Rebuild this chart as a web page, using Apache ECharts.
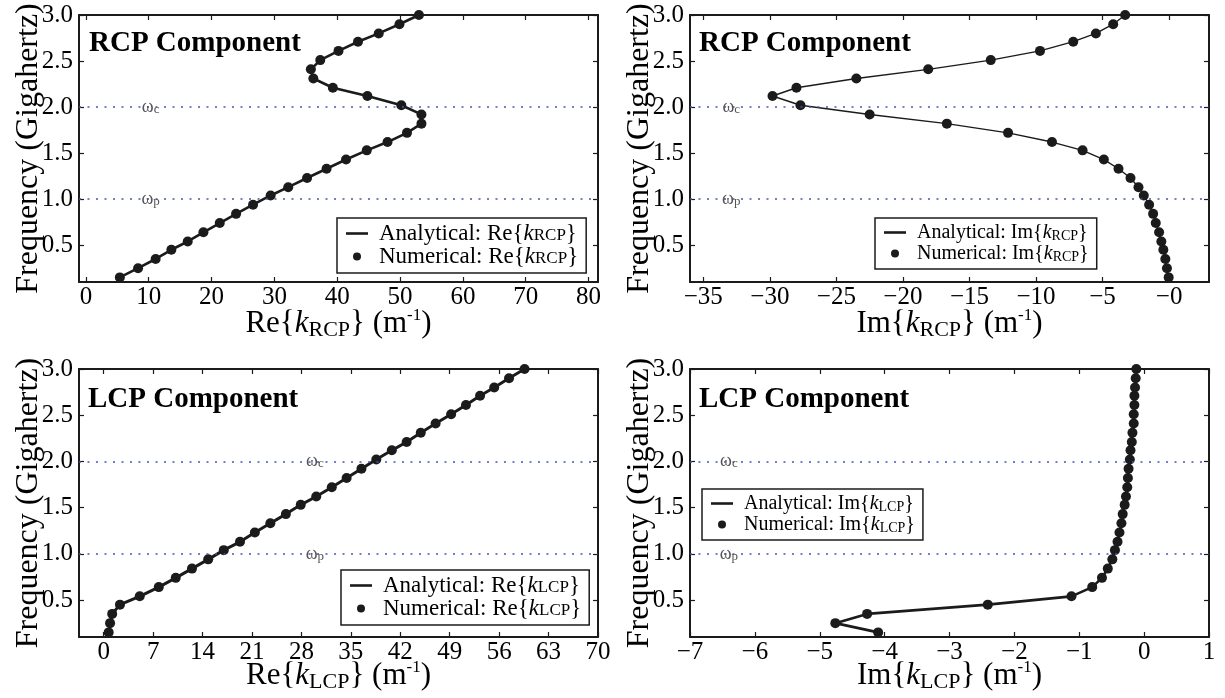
<!DOCTYPE html>
<html>
<head>
<meta charset="utf-8">
<script src="https://cdn.jsdelivr.net/npm/echarts@6.0.0/dist/echarts.min.js"></script>
<style>
  html, body { margin: 0; padding: 0; background: #fff; }
  #chart { width: 1225px; height: 698px; }
</style>
</head>
<body>
<div id="chart"></div>
<script>
// frequency samples (GHz), shared by all four panels
const freq = [0.15, 0.25, 0.35, 0.45, 0.54, 0.64, 0.74, 0.84, 0.94, 1.04,
              1.13, 1.23, 1.33, 1.43, 1.53, 1.62, 1.72, 1.82, 1.92, 2.02,
              2.12, 2.21, 2.31, 2.41, 2.51, 2.61, 2.71, 2.80, 2.90, 3.00]

// wavenumber components (m^-1), low -> high frequency
const reRcp = [5.4, 8.3, 11.1, 13.6, 16.2, 18.7, 21.3, 23.9, 26.6, 29.4,
               32.2, 35.2, 38.3, 41.4, 44.7, 48.0, 51.1, 53.4, 53.4, 50.2,
               44.8, 39.3, 36.2, 35.8, 37.3, 40.2, 43.3, 46.6, 49.9, 53.0]
const imRcp = [-0.03, -0.16, -0.28, -0.43, -0.58, -0.75, -1.0, -1.2, -1.5, -1.9,
               -2.3, -2.9, -3.8, -4.9, -6.5, -8.8, -12.1, -16.7, -22.5, -27.7,
               -29.8, -28.0, -23.5, -18.1, -13.4, -9.7, -7.2, -5.5, -4.2, -3.3]
const reLcp = [0.7, 0.9, 1.2, 2.3, 5.1, 7.8, 10.2, 12.5, 14.8, 17.0,
               19.3, 21.4, 23.6, 25.8, 27.9, 30.1, 32.3, 34.4, 36.5, 38.6,
               40.8, 42.9, 44.9, 47.0, 49.2, 51.3, 53.3, 55.3, 57.4, 59.6]
const imLcp = [-4.10, -4.76, -4.27, -2.41, -1.12, -0.80, -0.65, -0.56, -0.49, -0.45,
               -0.41, -0.38, -0.35, -0.33, -0.30, -0.28, -0.26, -0.25, -0.24, -0.22,
               -0.21, -0.19, -0.18, -0.16, -0.16, -0.15, -0.15, -0.14, -0.13, -0.12]

// axis ticks and labels
const yTicks = [0.5, 1.0, 1.5, 2.0, 2.5, 3.0]
const xTicks = [
  [0, 10, 20, 30, 40, 50, 60, 70, 80],
  [-35, -30, -25, -20, -15, -10, -5, 0],
  [0, 7, 14, 21, 28, 35, 42, 49, 56, 63, 70],
  [-7, -6, -5, -4, -3, -2, -1, 0, 1]
]
const xLabels = [
  ['0', '10', '20', '30', '40', '50', '60', '70', '80'],
  ['\u221235', '\u221230', '\u221225', '\u221220', '\u221215', '\u221210', '\u22125', '\u22120'],
  ['0', '7', '14', '21', '28', '35', '42', '49', '56', '63', '70'],
  ['\u22127', '\u22126', '\u22125', '\u22124', '\u22123', '\u22122', '\u22121', '0', '1']
]
const xRange = [[-1.1, 81.5], [-36, 3], [-3.5, 70], [-7, 1]]
const yRange = [0.1, 3.0]

// omega_c / omega_p reference lines and where their labels sit
const refLines = [2.0, 1.0]
const refSubs = ['c', 'p']
const omegaX = [10.3, -32.9, 29.9, -6.4]

const values = [reRcp, imRcp, reLcp, imLcp]
const parts = ['Re', 'Im', 'Re', 'Im']
const pols = ['RCP', 'RCP', 'LCP', 'LCP']
const titles = ['RCP Component', 'RCP Component', 'LCP Component', 'LCP Component']

const FONT = '"Liberation Serif", "Times New Roman", serif'
const INK = '#1b1b1b'

const grids = [
  { left: 79, top: 15, width: 519, height: 267 },
  { left: 690, top: 15, width: 519, height: 267 },
  { left: 79, top: 369, width: 519, height: 268 },
  { left: 690, top: 369, width: 519, height: 268 }
]
const legendPos = [[337, 218], [875, 218], [341, 570], [702, 489]]
const legendFont = [23, 20, 23, 20]
const lineWidths = [2.6, 1.4, 3, 2.6]
const titlePos = [[89, 28], [699, 28], [88, 384], [699, 384]]
const nameGaps = [25, 25, 22, 22]

const kLabel = (i) => `${parts[i]}{{k|k}{s|${pols[i]}}}`

const xAxes = [], yAxes = [], series = [], legends = [], titleList = []

for (let i = 0; i < 4; i++) {
  const frame = { show: true, onZero: false, lineStyle: { color: INK, width: 2 } }
  const xTick = { show: true, inside: true, length: 5, customValues: xTicks[i], lineStyle: { color: INK, width: 1.2 } }
  const yTick = { show: true, inside: true, length: 5, customValues: yTicks, lineStyle: { color: INK, width: 1.2 } }

  xAxes.push({
    type: 'value', gridIndex: i, position: 'bottom',
    min: xRange[i][0], max: xRange[i][1],
    splitLine: { show: false }, axisLine: frame, axisTick: xTick,
    axisLabel: {
      customValues: xTicks[i], margin: 3,
      fontFamily: FONT, fontSize: 25, color: '#000',
      formatter: v => xLabels[i][xTicks[i].indexOf(v)]
    },
    name: `${kLabel(i)} (m{p|-1})`,
    nameLocation: 'middle', nameGap: nameGaps[i], nameMoveOverlap: false,
    nameTextStyle: {
      fontFamily: FONT, fontSize: 31, color: '#000', lineHeight: 34,
      rich: {
        k: { fontFamily: FONT, fontSize: 31, fontStyle: 'italic', color: '#000', lineHeight: 34 },
        s: { fontFamily: FONT, fontSize: 22, color: '#000', lineHeight: 18, verticalAlign: 'bottom' },
        p: { fontFamily: FONT, fontSize: 17, color: '#000', lineHeight: 24, verticalAlign: 'top' }
      }
    }
  })
  xAxes.push({
    type: 'value', gridIndex: i, position: 'top',
    min: xRange[i][0], max: xRange[i][1],
    splitLine: { show: false }, axisLine: frame, axisTick: xTick,
    axisLabel: { show: false }
  })

  yAxes.push({
    type: 'value', gridIndex: i, position: 'left',
    min: yRange[0], max: yRange[1],
    splitLine: { show: false }, axisLine: frame, axisTick: yTick,
    axisLabel: {
      customValues: yTicks, margin: 6,
      fontFamily: FONT, fontSize: 25, color: '#000',
      formatter: v => v.toFixed(1)
    },
    name: 'Frequency (Gigahertz)',
    nameLocation: 'middle', nameGap: 32, nameMoveOverlap: false,
    nameTextStyle: { fontFamily: FONT, fontSize: 32, color: '#000', lineHeight: 36 }
  })
  yAxes.push({
    type: 'value', gridIndex: i, position: 'right',
    min: yRange[0], max: yRange[1],
    splitLine: { show: false }, axisLine: frame, axisTick: yTick,
    axisLabel: { show: false }
  })

  const pts = freq.map((f, j) => [values[i][j], f])
  const anaName = `Analytical: ${kLabel(i)}`
  const numName = `Numerical: ${kLabel(i)}`

  series.push({
    name: anaName, type: 'line', xAxisIndex: 2 * i, yAxisIndex: 2 * i,
    data: pts, symbol: 'none', showSymbol: false,
    lineStyle: { color: INK, width: lineWidths[i] }, itemStyle: { color: INK },
    markLine: {
      silent: true, symbol: ['none', 'none'], label: { show: false },
      lineStyle: { color: '#4656b8', type: [2, 6.5], width: 1.5 },
      data: refLines.map(v => ({ yAxis: v }))
    },
    markPoint: {
      silent: true, symbol: 'circle', symbolSize: 1,
      itemStyle: { color: 'rgba(0,0,0,0)' },
      label: {
        show: true, position: 'inside', color: '#555',
        formatter: p => `{w|\u03c9}{s|${p.data.sub}}`,
        rich: {
          w: { fontFamily: FONT, fontSize: 18, color: '#555', lineHeight: 18 },
          s: { fontFamily: FONT, fontSize: 13, color: '#555', lineHeight: 10, verticalAlign: 'bottom' }
        }
      },
      data: refLines.map((v, j) => ({ coord: [omegaX[i], v], sub: refSubs[j] }))
    }
  })
  series.push({
    name: numName, type: 'scatter', xAxisIndex: 2 * i, yAxisIndex: 2 * i,
    data: pts, symbol: 'circle', symbolSize: 10,
    itemStyle: { color: INK, opacity: 1 }
  })

  const fs = legendFont[i]
  legends.push({
    data: [
      { name: anaName, icon: 'path://M0,0H22V2.6H0Z' },
      { name: numName, icon: 'circle' }
    ],
    selectedMode: false, orient: 'vertical',
    left: legendPos[i][0], top: legendPos[i][1],
    padding: [4, 8, 5, 9], itemGap: 0, itemWidth: 22, itemHeight: 8,
    borderColor: INK, borderWidth: 1.5, backgroundColor: '#fff',
    itemStyle: { color: INK, borderWidth: 0 },
    lineStyle: { width: 0 },
    textStyle: {
      fontFamily: FONT, fontSize: fs, color: '#000', lineHeight: 21, padding: [0, 0, 0, 6],
      rich: {
        k: { fontFamily: FONT, fontSize: fs, fontStyle: 'italic', color: '#000', lineHeight: 21 },
        s: { fontFamily: FONT, fontSize: Math.round(fs * 0.72), color: '#000', lineHeight: 12, verticalAlign: 'bottom' }
      }
    }
  })

  titleList.push({
    text: titles[i], left: titlePos[i][0], top: titlePos[i][1], padding: 0,
    textStyle: { fontFamily: FONT, fontWeight: 'bold', fontSize: 29, lineHeight: 32, color: '#000' }
  })
}

const chart = echarts.init(document.getElementById('chart'))
chart.setOption({
  animation: false,
  backgroundColor: '#fff',
  title: titleList,
  legend: legends,
  grid: grids.map(g => ({ ...g, outerBoundsMode: 'none', containLabel: false })),
  xAxis: xAxes,
  yAxis: yAxes,
  series: series
})
</script>
</body>
</html>
